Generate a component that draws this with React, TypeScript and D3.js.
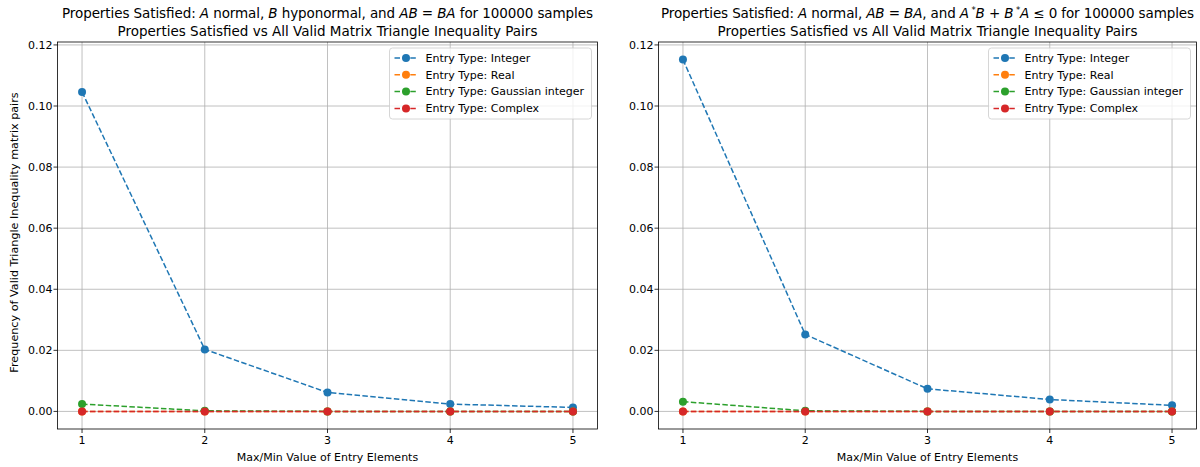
import React, { useRef, useEffect } from "react";
import * as d3 from "d3";

// values
const xValues = [1, 2, 3, 4, 5];
const seriesNames = [
  "Entry Type: Integer",
  "Entry Type: Real",
  "Entry Type: Gaussian integer",
  "Entry Type: Complex",
];
const seriesColors = ["#1f77b4", "#ff7f0e", "#2ca02c", "#d62728"];

const leftInteger = [0.1046, 0.0203, 0.0062, 0.0024, 0.0013];
const leftReal = [0, 0, 0, 0, 0];
const leftGaussian = [0.0024, 0.0002, 0, 0, 0];
const leftComplex = [0, 0, 0, 0, 0];

const rightInteger = [0.1152, 0.0252, 0.0074, 0.0039, 0.002];
const rightReal = [0, 0, 0, 0, 0];
const rightGaussian = [0.0032, 0.0002, 0, 0, 0];
const rightComplex = [0, 0, 0, 0, 0];

const yTicks = [0, 0.02, 0.04, 0.06, 0.08, 0.1, 0.12];

const W = 1200;
const H = 467;
const FONT = "DejaVu Sans, sans-serif";

type Piece = { t: string; i?: boolean; sup?: boolean };

const leftTitle: Piece[] = [
  { t: "Properties Satisfied: " },
  { t: "A", i: true },
  { t: " normal, " },
  { t: "B", i: true },
  { t: " hyponormal, and " },
  { t: "AB", i: true },
  { t: " = " },
  { t: "BA", i: true },
  { t: " for 100000 samples" },
];
const rightTitle: Piece[] = [
  { t: "Properties Satisfied: " },
  { t: "A", i: true },
  { t: " normal, " },
  { t: "AB", i: true },
  { t: " = " },
  { t: "BA", i: true },
  { t: ", and " },
  { t: "A", i: true },
  { t: " *", sup: true },
  { t: "B", i: true },
  { t: " + " },
  { t: "B", i: true },
  { t: " *", sup: true },
  { t: "A", i: true },
  { t: " ≤ 0 for 100000 samples" },
];
const subtitle = "Properties Satisfied vs All Valid Matrix Triangle Inequality Pairs";

const panels = [
  {
    left: 57.5,
    right: 597.5,
    title: leftTitle,
    titleLen: 531,
    series: [leftInteger, leftReal, leftGaussian, leftComplex],
    yLabel: true,
  },
  {
    left: 658.5,
    right: 1196.5,
    title: rightTitle,
    titleLen: 533,
    series: [rightInteger, rightReal, rightGaussian, rightComplex],
    yLabel: false,
  },
];

const top = 42;
const bottom = 429;

export default function App() {
  const ref = useRef<SVGSVGElement>(null);

  useEffect(() => {
    const svg = d3.select(ref.current);
    svg.selectAll("*").remove();

    // shared y, matplotlib style 5% margins
    const allVals = panels.flatMap((p) => p.series.flat());
    const yMin = d3.min(allVals) as number;
    const yMax = d3.max(allVals) as number;
    const pad = (yMax - yMin) * 0.05;
    const y = d3.scaleLinear().domain([yMin - pad, yMax + pad]).range([bottom, top]);

    panels.forEach((p) => {
      const xPad = (d3.max(xValues)! - d3.min(xValues)!) * 0.05;
      const x = d3
        .scaleLinear()
        .domain([d3.min(xValues)! - xPad, d3.max(xValues)! + xPad])
        .range([p.left, p.right]);
      const g = svg.append("g");

      // grid
      g.selectAll(".gx")
        .data(xValues)
        .enter()
        .append("line")
        .attr("x1", (d) => x(d))
        .attr("x2", (d) => x(d))
        .attr("y1", top)
        .attr("y2", bottom)
        .attr("stroke", "#b0b0b0")
        .attr("stroke-width", 0.8);
      g.selectAll(".gy")
        .data(yTicks)
        .enter()
        .append("line")
        .attr("x1", p.left)
        .attr("x2", p.right)
        .attr("y1", (d) => y(d))
        .attr("y2", (d) => y(d))
        .attr("stroke", "#b0b0b0")
        .attr("stroke-width", 0.8);

      // series
      const line = d3
        .line<number>()
        .x((_, i) => x(xValues[i]))
        .y((d) => y(d));
      p.series.forEach((vals, si) => {
        g.append("path")
          .attr("d", line(vals))
          .attr("fill", "none")
          .attr("stroke", seriesColors[si])
          .attr("stroke-width", 1.5)
          .attr("stroke-dasharray", "5.5,2.4");
        g.selectAll(".m" + si)
          .data(vals)
          .enter()
          .append("circle")
          .attr("cx", (_, i) => x(xValues[i]))
          .attr("cy", (d) => y(d))
          .attr("r", 4)
          .attr("fill", seriesColors[si]);
      });

      // frame
      g.append("rect")
        .attr("x", p.left)
        .attr("y", top)
        .attr("width", p.right - p.left)
        .attr("height", bottom - top)
        .attr("fill", "none")
        .attr("stroke", "#000")
        .attr("stroke-width", 0.8);

      // x ticks
      xValues.forEach((v) => {
        g.append("line")
          .attr("x1", x(v))
          .attr("x2", x(v))
          .attr("y1", bottom)
          .attr("y2", bottom + 4)
          .attr("stroke", "#000")
          .attr("stroke-width", 0.8);
        g.append("text")
          .attr("x", x(v))
          .attr("y", bottom + 15)
          .attr("text-anchor", "middle")
          .attr("font-size", 11)
          .attr("font-family", FONT)
          .text(d3.format("d")(v));
      });
      // y ticks
      yTicks.forEach((v) => {
        g.append("line")
          .attr("x1", p.left - 4)
          .attr("x2", p.left)
          .attr("y1", y(v))
          .attr("y2", y(v))
          .attr("stroke", "#000")
          .attr("stroke-width", 0.8);
        g.append("text")
          .attr("x", p.left - 5)
          .attr("y", y(v))
          .attr("dy", "0.35em")
          .attr("text-anchor", "end")
          .attr("font-size", 11)
          .attr("font-family", FONT)
          .text(d3.format(".2f")(v));
      });

      // axis labels
      const cx = (p.left + p.right) / 2;
      g.append("text")
        .attr("x", cx)
        .attr("y", 461)
        .attr("text-anchor", "middle")
        .attr("font-size", 11)
        .attr("font-family", FONT)
        .text("Max/Min Value of Entry Elements");
      if (p.yLabel) {
        g.append("text")
          .attr("transform", `translate(18, ${(top + bottom) / 2 - 3}) rotate(-90)`)
          .attr("text-anchor", "middle")
          .attr("font-size", 11.2)
          .attr("font-family", FONT)
          .text("Frequency of Valid Triangle Inequality matrix pairs");
      }

      // titles
      const t1 = g
        .append("text")
        .attr("x", cx)
        .attr("y", 18)
        .attr("text-anchor", "middle")
        .attr("font-size", 13.5)
        .attr("font-family", FONT)
        .attr("textLength", p.titleLen)
        .attr("lengthAdjust", "spacing");
      let back = 0;
      p.title.forEach((pc) => {
        const ts = t1.append("tspan");
        if (pc.sup) {
          ts.attr("dy", -5).attr("font-size", 8.5).text(pc.t);
          back = 5;
        } else {
          if (back) ts.attr("dy", back);
          back = 0;
          ts.attr("font-style", pc.i ? "italic" : "normal").text(pc.t);
        }
      });
      g.append("text")
        .attr("x", cx)
        .attr("y", 36)
        .attr("text-anchor", "middle")
        .attr("font-size", 13.5)
        .attr("font-family", FONT)
        .text(subtitle);

      // legend
      const lw = 202;
      const lx = p.right - 6 - lw;
      const ly = 48;
      g.append("rect")
        .attr("x", lx)
        .attr("y", ly)
        .attr("width", lw)
        .attr("height", 71)
        .attr("rx", 3)
        .attr("fill", "rgba(255,255,255,0.8)")
        .attr("stroke", "#cccccc")
        .attr("stroke-width", 0.8);
      seriesNames.forEach((name, i) => {
        const yy = ly + 10 + i * 16.8;
        g.append("line")
          .attr("x1", lx + 5)
          .attr("x2", lx + 28)
          .attr("y1", yy)
          .attr("y2", yy)
          .attr("stroke", seriesColors[i])
          .attr("stroke-width", 1.5)
          .attr("stroke-dasharray", "5.5,2.4");
        g.append("circle")
          .attr("cx", lx + 16.5)
          .attr("cy", yy)
          .attr("r", 4)
          .attr("fill", seriesColors[i]);
        g.append("text")
          .attr("x", lx + 36)
          .attr("y", yy)
          .attr("dy", "0.35em")
          .attr("font-size", 11)
          .attr("font-family", FONT)
          .text(name);
      });
    });
  }, []);

  return (
    <svg
      ref={ref}
      width={W}
      height={H}
      viewBox={`0 0 ${W} ${H}`}
      style={{ position: "absolute", left: 0, top: 0, background: "#fff" }}
    />
  );
}
